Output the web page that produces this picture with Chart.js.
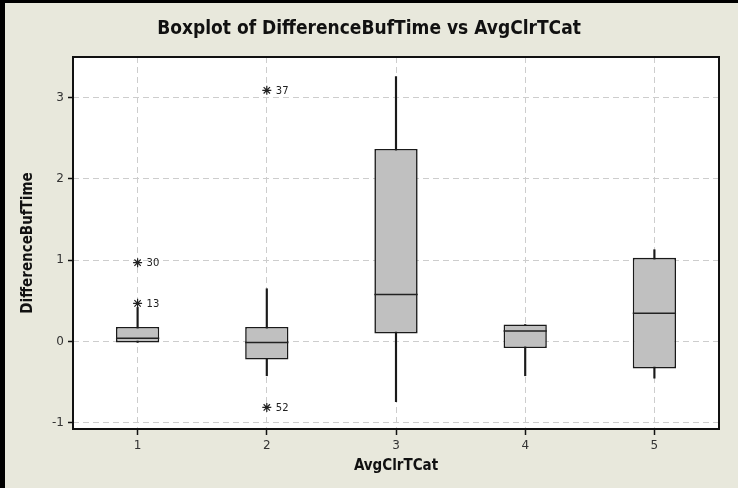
<!DOCTYPE html>
<html>
<head>
<meta charset="utf-8">
<script src="https://cdn.jsdelivr.net/npm/chart.js@4.4.0/dist/chart.umd.min.js"></script>
<style>
  html, body { margin: 0; padding: 0; background: #E8E8DC; }
  #wrap { width: 738px; height: 488px; }
</style>
</head>
<body>
<div id="wrap"><canvas id="boxChart" width="738" height="488"></canvas></div>
<script>
// valores
const categories = ['1', '2', '3', '4', '5'];
const q1 = [-0.01, -0.22, 0.10, -0.08, -0.33];
const medians = [0.04, -0.01, 0.58, 0.13, 0.35];
const q3 = [0.18, 0.18, 2.37, 0.21, 1.03];
const whiskerLow = [-0.01, -0.42, -0.74, -0.42, -0.45];
const whiskerHigh = [0.42, 0.65, 3.26, 0.21, 1.13];

// outliers (asteriscos) e seus rótulos
const outlierCat = ['1', '1', '2', '2'];
const outlierValue = [0.97, 0.47, 3.09, -0.81];
const outlierLabel = ['30', '13', '37', '52'];

const yTickValues = [-1, 0, 1, 2, 3];

const titleFont = "'DejaVu Sans Condensed', 'Liberation Sans Narrow', 'DejaVu Sans', sans-serif";
const tickFont = "'DejaVu Sans', 'Liberation Sans', sans-serif";

// Plugin: fundo, linha da mediana, rótulos dos outliers e moldura
const boxExtras = {
    id: 'boxExtras',
    beforeDraw(chart) {
        const ctx = chart.ctx;
        ctx.save();
        ctx.fillStyle = '#E8E8DC';
        ctx.fillRect(0, 0, chart.width, chart.height);
        // bordas pretas (esquerda e topo)
        ctx.fillStyle = '#000';
        ctx.fillRect(0, 0, 5, chart.height);
        ctx.fillRect(0, 0, chart.width, 3);
        const a = chart.chartArea;
        ctx.fillStyle = '#FFFFFF';
        ctx.fillRect(a.left, a.top, a.right - a.left, a.bottom - a.top);
        ctx.restore();
    },
    afterDatasetsDraw(chart) {
        const ctx = chart.ctx;
        const y = chart.scales.y;
        const x = chart.scales.x;
        const boxMeta = chart.getDatasetMeta(1);

        ctx.save();
        // mediana
        ctx.strokeStyle = '#222';
        ctx.lineWidth = 1.5;
        boxMeta.data.forEach((bar, i) => {
            const py = y.getPixelForValue(medians[i]);
            ctx.beginPath();
            ctx.moveTo(bar.x - bar.width / 2, py);
            ctx.lineTo(bar.x + bar.width / 2, py);
            ctx.stroke();
        });

        // rótulos dos outliers
        ctx.fillStyle = '#222';
        ctx.font = "10px " + tickFont;
        ctx.textAlign = 'left';
        ctx.textBaseline = 'middle';
        outlierLabel.forEach((lbl, i) => {
            const px = x.getPixelForValue(categories.indexOf(outlierCat[i]));
            const py = y.getPixelForValue(outlierValue[i]);
            ctx.fillText(lbl, px + 9, py + 1);
        });

        // moldura da área do gráfico
        const a = chart.chartArea;
        ctx.strokeStyle = '#111';
        ctx.lineWidth = 2;
        ctx.strokeRect(a.left, a.top, a.right - a.left, a.bottom - a.top);
        ctx.restore();
    }
};

const ctx = document.getElementById('boxChart').getContext('2d');

new Chart(ctx, {
    type: 'bar',
    data: {
        labels: categories,
        datasets: [
            {
                type: 'line',
                label: 'Outliers',
                data: outlierCat.map((c, i) => ({ x: c, y: outlierValue[i] })),
                showLine: false,
                pointStyle: 'star',
                pointRadius: 4.5,
                pointBorderColor: '#222',
                pointBorderWidth: 1.2,
                pointBackgroundColor: '#222',
                order: 0
            },
            {
                label: 'Box',
                data: categories.map((c, i) => [q1[i], q3[i]]),
                backgroundColor: '#C0C0C0',
                borderColor: '#1A1A1A',
                borderWidth: 1.6,
                borderSkipped: false,
                grouped: false,
                categoryPercentage: 1,
                barPercentage: 0.335,
                order: 1
            },
            {
                label: 'Whisker',
                data: categories.map((c, i) => [whiskerLow[i], whiskerHigh[i]]),
                backgroundColor: '#1A1A1A',
                borderWidth: 0,
                grouped: false,
                barThickness: 1.5,
                order: 2
            }
        ]
    },
    options: {
        responsive: false,
        animation: false,
        events: [],
        layout: {
            padding: { left: 19, right: 19, top: 0, bottom: 0 }
        },
        plugins: {
            legend: { display: false },
            tooltip: { enabled: false },
            title: {
                display: true,
                text: 'Boxplot of DifferenceBufTime vs AvgClrTCat',
                color: '#111',
                font: { family: titleFont, size: 19, weight: 'bold' },
                padding: { top: 18, bottom: 16.2 }
            }
        },
        scales: {
            x: {
                type: 'category',
                offset: true,
                border: { display: false, dash: [6, 4] },
                grid: {
                    offset: false,
                    color: '#CDCDCD',
                    lineWidth: 1,
                    drawTicks: true,
                    tickLength: 6,
                    tickColor: '#111',
                    tickWidth: 1.5,
                    tickBorderDash: []
                },
                ticks: {
                    color: '#333',
                    font: { family: tickFont, size: 12 },
                    padding: 4
                },
                title: {
                    display: true,
                    text: 'AvgClrTCat',
                    color: '#111',
                    font: { family: titleFont, size: 15, weight: 'bold' },
                    padding: { top: 0, bottom: 13 }
                },
                afterFit(scale) { scale.height = 59; }
            },
            y: {
                type: 'linear',
                min: -1.075,
                max: 3.5,
                border: { display: false, dash: [6, 4] },
                grid: {
                    color: '#CDCDCD',
                    lineWidth: 1,
                    drawTicks: true,
                    tickLength: 5,
                    tickColor: '#111',
                    tickWidth: 1.5,
                    tickBorderDash: []
                },
                ticks: {
                    includeBounds: false,
                    color: '#333',
                    font: { family: tickFont, size: 12 },
                    padding: 4
                },
                afterBuildTicks(scale) {
                    scale.ticks = yTickValues.map(v => ({ value: v }));
                },
                title: {
                    display: true,
                    text: 'DifferenceBufTime',
                    color: '#111',
                    font: { family: titleFont, size: 15, weight: 'bold' },
                    padding: { top: 0, bottom: 0 }
                },
                afterFit(scale) { scale.width = 54; }
            }
        }
    },
    plugins: [boxExtras]
});
</script>
</body>
</html>
